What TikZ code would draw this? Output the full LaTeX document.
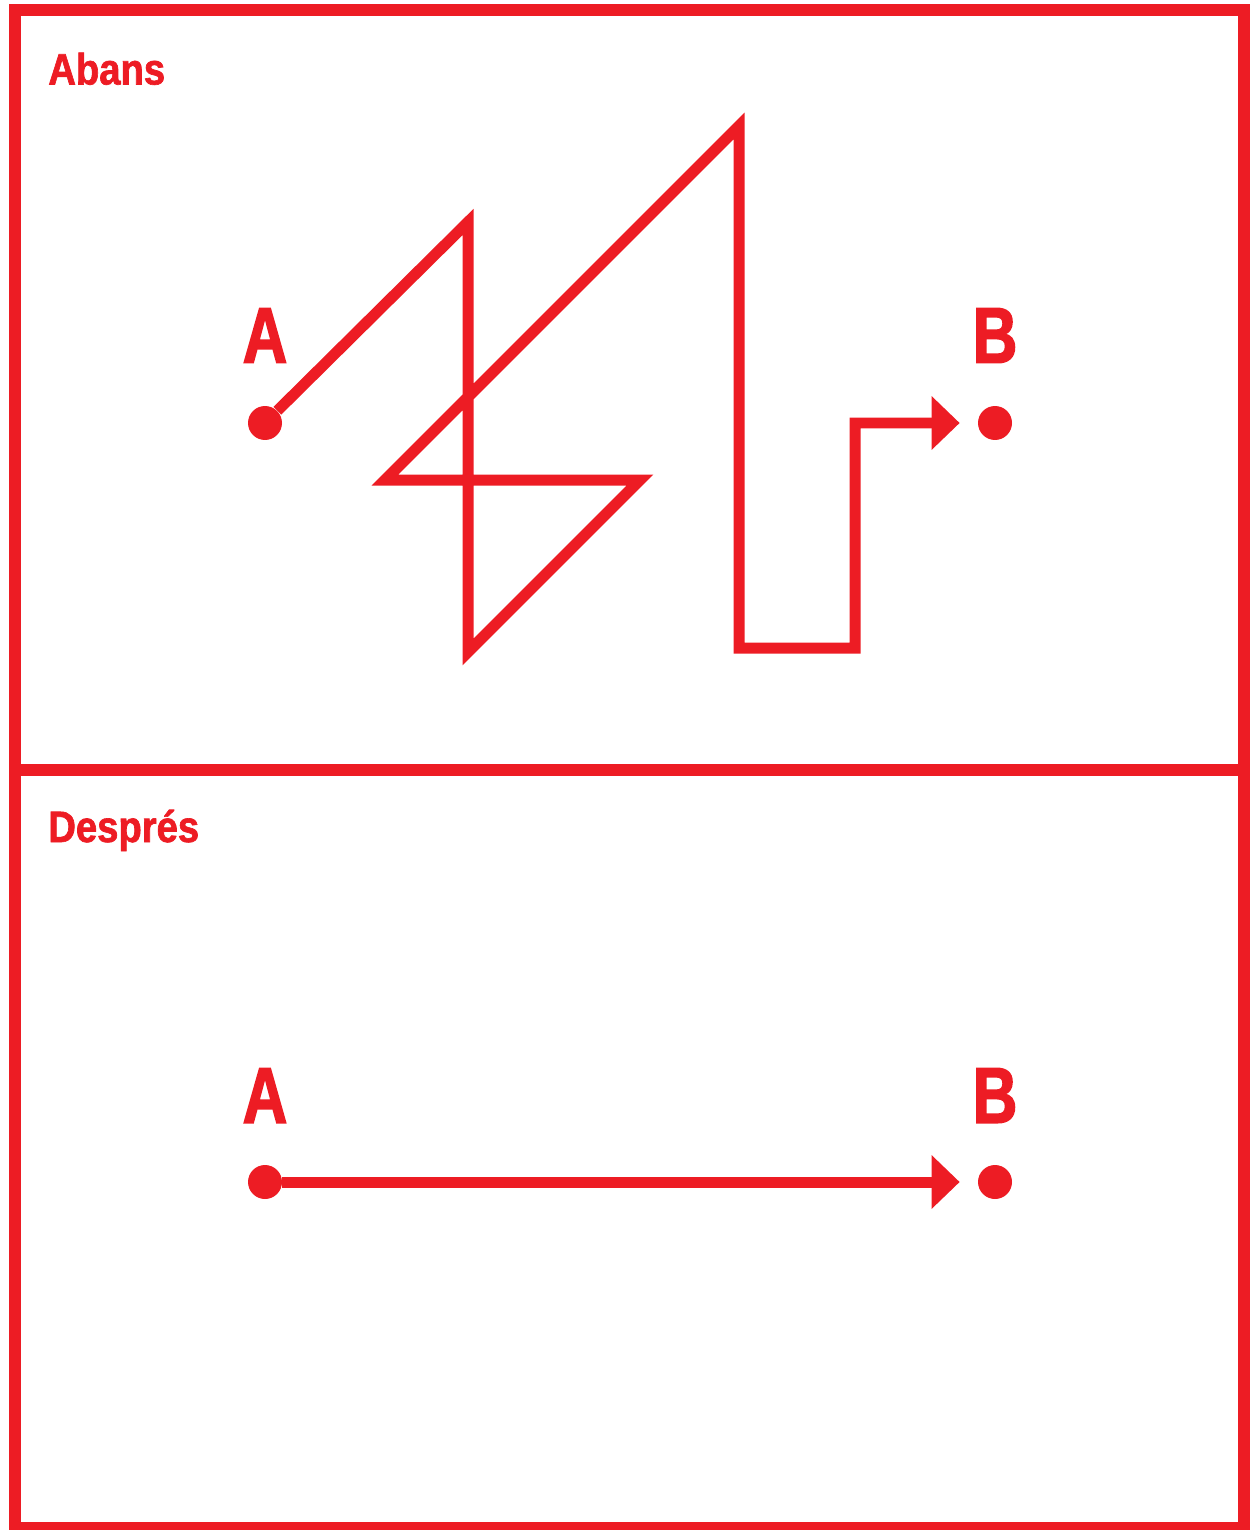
\documentclass[tikz,border=0pt]{standalone}
\usepackage{fontspec}
\usepackage{xcolor}
\usetikzlibrary{arrows.meta, positioning}
\definecolor{signred}{HTML}{ED1C24}
\newfontfamily\panelfont[FakeStretch=0.87, FakeBold=1.5]{Liberation Sans Bold}
\newfontfamily\pointfont[FakeStretch=0.78, FakeBold=2]{Liberation Sans Bold}

\begin{document}
\begin{tikzpicture}[x=0.02cm, y=-0.02cm,
    frame/.style={signred, line width=0.24cm},
    route/.style={signred, line width=0.22cm, -{Triangle[length=0.56cm, width=1.04cm]}, shorten >=0.36cm},
    dot/.style={circle, fill=signred, minimum size=0.68cm, inner sep=0pt},
    pointlabel/.style={signred, font=\pointfont\fontsize{45}{45}\selectfont, inner sep=0pt},
    paneltitle/.style={signred, font=\panelfont\fontsize{25}{25}\selectfont, inner sep=0pt, anchor=base west}]
    \useasboundingbox (0,0) rectangle (1249,1530);

    % Frame
    \draw[frame] (15,10.5) rectangle (1244,1528);
    \draw[frame] (15,769.5) -- (1244,769.5);

    % Abans
    \node[paneltitle] (abans) at (48,84.5) {Abans};
    \node[dot] (a1) at (265,423) {};
    \node[dot] (b1) at (995,423) {};
    \node[pointlabel] (la1) at (265,335.5) {A};
    \node[pointlabel] (lb1) at (995,335.5) {B};
    \draw[route] (a1) -- (468,222) -- (468,652) -- (640,480) -- (385,480) -- (739,126)
        -- (739,648) -- (855,648) -- (855,423) -- (b1);

    % Despres
    \node[paneltitle] (despres) at (48,842) {Després};
    \node[dot] (a2) at (265,1182) {};
    \node[dot] (b2) at (995,1182) {};
    \node[pointlabel] (la2) at (265,1095.5) {A};
    \node[pointlabel] (lb2) at (995,1095.5) {B};
    \draw[route] (a2) -- (b2);
\end{tikzpicture}
\end{document}
